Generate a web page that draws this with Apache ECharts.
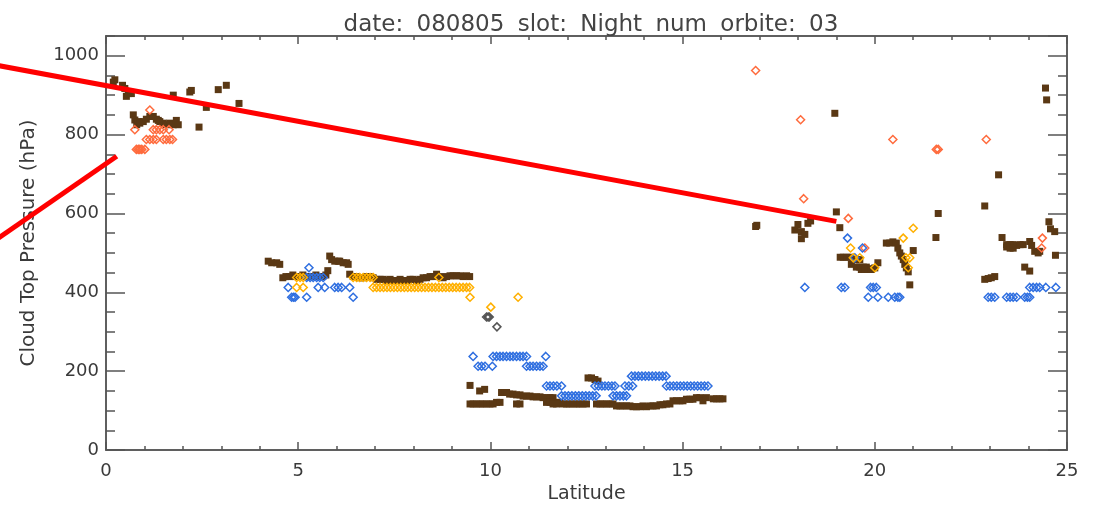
<!DOCTYPE html>
<html>
<head>
<meta charset="utf-8">
<script src="https://cdn.jsdelivr.net/npm/echarts@6/dist/echarts.min.js"></script>
<style>
  html, body { margin: 0; padding: 0; background: #ffffff; }
  #chart { width: 1096px; height: 509px; }
</style>
</head>
<body>
<div id="chart"></div>
<script>
// Cloud top pressure (hPa) against latitude, one orbit, night slot.
const titleWords = ['date:', '080805', 'slot:', 'Night', 'num', 'orbite:', '03'];
const xTickLabels = ['0', '5', '10', '15', '20', '25'];
const yTickLabels = ['0', '200', '400', '600', '800', '1000'];

// Retrieval A: filled squares [latitude, pressure]
const brownPoints = [
  [0.19,933],[0.23,939],[0.43,925],[0.49,917],[0.53,897],[0.58,904],[0.66,904],
  [1.75,900],[2.18,908],[2.22,912],[2.42,819],[2.61,869],[2.92,914],[3.13,925],[3.46,879],
  [0.71,850],[0.75,837],[0.80,825],[0.84,833],[0.88,829],[0.97,833],[1.05,839],[1.14,846],
  [1.23,846],[1.31,839],[1.36,836],[1.40,833],[1.49,829],[1.57,825],[1.66,829],[1.75,825],
  [1.83,836],[1.88,825],
  [4.22,479],[4.31,475],[4.44,475],[4.52,471],
  [4.60,437],[4.68,440],[4.77,440],[4.86,444],[4.94,440],[5.03,440],[5.12,444],[5.20,440],
  [5.29,440],[5.38,440],[5.46,444],[5.55,440],[5.64,440],[5.72,444],[5.77,455],
  [5.82,492],[5.87,483],[5.95,479],[6.04,479],[6.08,479],[6.17,475],[6.26,475],[6.30,471],
  [6.34,446],[6.43,440],[6.52,440],[6.60,437],[6.69,437],[6.78,440],[6.87,440],[6.95,437],
  [7.04,433],[7.13,433],[7.21,433],[7.30,430],[7.39,433],[7.47,430],[7.56,430],[7.65,433],
  [7.73,430],[7.82,430],[7.91,433],[7.99,433],[8.08,430],[8.17,433],[8.25,437],[8.34,437],
  [8.43,440],[8.51,440],[8.60,446],[8.69,440],[8.77,437],[8.86,440],[8.95,442],[9.03,442],
  [9.12,442],[9.21,442],[9.29,440],[9.38,442],[9.46,440],
  [9.47,164],[9.72,150],[9.85,154],[10.29,146],[10.38,146],[10.42,146],
  [9.47,117],[9.55,117],[9.64,117],[9.73,117],[9.81,117],[9.90,117],[9.99,117],[10.07,117],
  [10.16,121],[10.25,121],[10.68,117],[10.77,117],
  [10.50,142],[10.59,142],[10.68,140],[10.77,140],[10.85,137],[10.94,137],[11.03,137],
  [11.11,135],[11.20,135],[11.29,135],[11.37,133],[11.46,133],[11.55,133],[11.63,133],
  [11.46,121],[11.55,121],[11.72,121],[11.80,121],
  [11.63,117],[11.72,117],[11.89,117],[11.98,117],[12.06,117],[12.15,117],[12.24,117],
  [12.32,117],[12.41,117],[12.50,117],
  [12.54,183],[12.63,183],[12.72,179],[12.80,175],
  [12.76,117],[12.85,117],[12.93,117],[13.02,117],[13.11,117],[13.19,117],
  [13.28,112],[13.37,112],[13.45,112],[13.54,112],[13.63,112],[13.71,110],[13.80,110],
  [13.89,110],[13.97,112],[14.06,110],[14.15,112],[14.23,112],[14.32,112],[14.41,115],
  [14.49,115],[14.58,117],[14.67,117],
  [14.75,125],[14.84,125],[14.93,125],[15.01,125],[15.10,129],[15.19,129],[15.27,129],
  [15.36,133],[15.45,133],[15.53,125],[15.62,133],[15.80,130],[15.88,130],[15.97,130],[16.05,130],
  [16.90,567],[16.93,570],[17.92,558],[18.00,572],[18.09,554],[18.09,536],[18.18,547],
  [18.26,575],[18.33,581],[18.96,854],[19.00,604],[19.09,564],
  [19.10,489],[19.18,489],[19.27,489],[19.36,489],[19.39,471],[19.44,483],[19.52,483],
  [19.61,483],[19.52,464],[19.61,464],[19.70,464],[19.78,464],[19.87,460],[19.65,458],
  [19.74,458],[19.83,458],[19.91,458],[20.00,462],[20.08,475],
  [20.30,525],[20.39,525],[20.47,528],[20.56,525],[20.60,512],[20.65,500],[20.69,492],
  [20.74,483],[20.78,471],[20.82,462],[20.87,452],[20.91,419],[21.00,506],
  [21.59,539],[21.65,600],[22.86,619],[22.86,433],[22.95,435],[23.03,437],[23.12,440],
  [23.22,698],[23.31,539],
  [23.43,521],[23.52,521],[23.60,521],[23.69,519],[23.78,521],[23.86,521],[23.43,515],
  [23.52,512],[23.60,512],
  [24.03,529],[24.08,519],[24.16,504],[24.25,500],[24.29,504],[23.90,464],[24.03,454],
  [24.44,918],[24.47,888],[24.53,579],[24.57,561],[24.68,554],[24.70,494]
];

// Retrieval B: open diamonds, low-level class
const orangePoints = [
  [0.75,812.5],[0.79,762.5],[0.84,762.5],[0.88,762.5],[0.93,762.5],[1.01,762.5],[1.14,862.5],
  [1.05,787.5],[1.14,787.5],[1.23,787.5],[1.31,787.5],[1.49,787.5],[1.57,787.5],[1.66,787.5],
  [1.73,787.5],[1.23,812.5],[1.31,812.5],[1.40,812.5],[1.49,812.5],[1.64,812.5],
  [16.90,962.5],[18.07,837.5],[18.15,637.5],[19.31,587.5],[19.74,512.5],[20.47,787.5],
  [21.60,762.5],[21.65,762.5],[22.90,787.5],[24.36,537.5],[24.34,512.5]
];

// Retrieval B: open diamonds, high-level class
const bluePoints = [
  [4.74,412.5],[4.83,387.5],[4.88,387.5],[4.92,387.5],[5.22,387.5],[5.28,462.5],[5.22,437.5],
  [5.31,437.5],[5.39,437.5],[5.48,437.5],[5.56,437.5],[5.65,437.5],[5.52,412.5],[5.69,412.5],
  [5.95,412.5],[6.04,412.5],[6.13,412.5],[6.34,412.5],[6.43,387.5],
  [9.55,237.5],[10.07,237.5],[10.16,237.5],[10.25,237.5],[10.33,237.5],[10.42,237.5],
  [10.51,237.5],[10.59,237.5],[10.68,237.5],[10.77,237.5],[10.85,237.5],[10.94,237.5],[11.44,237.5],
  [9.68,212.5],[9.77,212.5],[9.86,212.5],[10.05,212.5],[10.94,212.5],[11.03,212.5],
  [11.11,212.5],[11.20,212.5],[11.29,212.5],[11.37,212.5],
  [11.46,162.5],[11.55,162.5],[11.64,162.5],[11.73,162.5],[11.85,162.5],
  [12.72,162.5],[12.81,162.5],[12.90,162.5],[12.98,162.5],[13.07,162.5],[13.16,162.5],[13.24,162.5],
  [13.50,162.5],[13.60,162.5],[13.70,162.5],
  [14.58,162.5],[14.67,162.5],[14.76,162.5],[14.85,162.5],[14.94,162.5],[15.03,162.5],
  [15.12,162.5],[15.21,162.5],[15.30,162.5],[15.39,162.5],[15.48,162.5],[15.57,162.5],[15.66,162.5],
  [13.67,187.5],[13.76,187.5],[13.85,187.5],[13.94,187.5],[14.03,187.5],[14.12,187.5],
  [14.21,187.5],[14.30,187.5],[14.39,187.5],[14.48,187.5],[14.57,187.5],
  [11.85,137.5],[11.94,137.5],[12.03,137.5],[12.12,137.5],[12.21,137.5],[12.30,137.5],
  [12.39,137.5],[12.48,137.5],[12.57,137.5],[12.66,137.5],[12.75,137.5],
  [13.19,137.5],[13.28,137.5],[13.37,137.5],[13.46,137.5],[13.54,137.5],
  [18.18,412.5],[19.13,412.5],[19.22,412.5],[19.29,537.5],[19.48,487.5],[19.68,512.5],
  [19.89,412.5],[19.96,412.5],[20.04,412.5],[19.83,387.5],[20.08,387.5],[20.35,387.5],
  [20.52,387.5],[20.60,387.5],[20.65,387.5],
  [22.95,387.5],[23.03,387.5],[23.12,387.5],[23.43,387.5],[23.52,387.5],[23.60,387.5],
  [23.69,387.5],[23.90,387.5],[23.97,387.5],[24.03,387.5],[24.03,412.5],[24.12,412.5],
  [24.21,412.5],[24.29,412.5],[24.45,412.5],[24.71,412.5]
];

// Retrieval B: open diamonds, mid-level class
const yellowPoints = [
  [4.96,437.5],[5.05,437.5],[5.13,437.5],[4.96,412.5],[5.13,412.5],
  [6.43,437.5],[6.52,437.5],[6.60,437.5],[6.69,437.5],[6.78,437.5],[6.87,437.5],[6.95,437.5],
  [6.95,412.5],[7.04,412.5],[7.13,412.5],[7.22,412.5],[7.31,412.5],[7.40,412.5],[7.49,412.5],
  [7.58,412.5],[7.67,412.5],[7.76,412.5],[7.85,412.5],[7.94,412.5],[8.03,412.5],[8.12,412.5],
  [8.21,412.5],[8.30,412.5],[8.39,412.5],[8.48,412.5],[8.57,412.5],[8.66,412.5],[8.75,412.5],
  [8.84,412.5],[8.93,412.5],[9.02,412.5],[9.11,412.5],[9.20,412.5],[9.29,412.5],[9.38,412.5],
  [9.46,412.5],
  [8.66,437.5],[9.47,387.5],[10.01,362.5],[10.72,387.5],
  [19.37,512.5],[19.44,487.5],[19.61,487.5],[20.00,462.5],[20.74,537.5],[21.00,562.5],
  [20.81,487.5],[20.91,487.5],[20.87,462.5]
];

// Retrieval B: open diamonds, undetermined class
const grayPoints = [[9.90,337.5],[9.94,337.5],[9.97,337.5],[10.17,312.5]];

// Annotation strokes, in data units
const strokeA = [[-2.8,975],[19.0,580]];
const strokeB = [[-2.8,537.5],[0.28,745]];

const FONT = 'DejaVu Sans';
const AXIS_COLOR = '#555555';
const TEXT_COLOR = '#3a3a3a';

function diamondSeries(name, data, color) {
  return {
    name: name, type: 'scatter', data: data,
    symbol: 'diamond', symbolSize: 8,
    itemStyle: { color: 'rgba(255,255,255,0)', borderColor: color, borderWidth: 1.5, opacity: 1 },
    silent: true, z: 3
  };
}

function tickAxis(dim, position, interval, len, extra) {
  const isX = dim === 'x';
  return Object.assign({
    type: 'value', position: position,
    min: 0, max: isX ? 25 : 1050, interval: interval,
    axisLine: { show: true, onZero: false, lineStyle: { color: AXIS_COLOR, width: 1.5 } },
    axisTick: { show: true, inside: true, length: len, lineStyle: { color: AXIS_COLOR, width: 1.5 } },
    axisLabel: { show: false },
    splitLine: { show: false }
  }, extra || {});
}

// Title words separated by wide gaps
const titleRich = titleWords.map(function (w) { return '{w|' + w + '}'; }).join('{g| }');

const chart = echarts.init(document.getElementById('chart'), null, { renderer: 'canvas' });

chart.setOption({
  animation: false,
  backgroundColor: '#ffffff',
  title: {
    text: titleRich, left: 586, top: 6, textAlign: 'center',
    textStyle: {
      fontFamily: FONT, fontSize: 23, fontWeight: 'normal', color: '#444444', lineHeight: 28,
      rich: {
        w: { fontFamily: FONT, fontSize: 23, color: '#444444', lineHeight: 28 },
        g: { fontFamily: FONT, fontSize: 42, color: '#444444', lineHeight: 28 }
      }
    }
  },
  grid: { left: 106, right: 29, top: 36, bottom: 54, containLabel: false },
  xAxis: [
    tickAxis('x', 'bottom', 5, 8, {
      name: 'Latitude', nameLocation: 'middle', nameGap: 33,
      nameTextStyle: { fontFamily: FONT, fontSize: 19, color: TEXT_COLOR },
      axisLabel: {
        show: true, margin: 12, fontFamily: FONT, fontSize: 18, color: TEXT_COLOR,
        formatter: function (v) { const s = String(v); return xTickLabels.indexOf(s) >= 0 ? s : ''; }
      }
    }),
    tickAxis('x', 'bottom', 1, 4),
    tickAxis('x', 'top', 5, 8),
    tickAxis('x', 'top', 1, 4)
  ],
  yAxis: [
    tickAxis('y', 'left', 200, 19, {
      name: 'Cloud Top Pressure (hPa)', nameLocation: 'middle', nameGap: 67,
      nameTextStyle: { fontFamily: FONT, fontSize: 20, color: TEXT_COLOR },
      axisLabel: {
        show: true, margin: 7, fontFamily: FONT, fontSize: 18, color: TEXT_COLOR,
        showMaxLabel: false,
        formatter: function (v) { const s = String(v); return yTickLabels.indexOf(s) >= 0 ? s : ''; }
      }
    }),
    tickAxis('y', 'left', 50, 9),
    tickAxis('y', 'right', 200, 19),
    tickAxis('y', 'right', 50, 9)
  ],
  series: [
    {
      name: 'A', type: 'scatter', data: brownPoints,
      symbol: 'rect', symbolSize: 7,
      itemStyle: { color: '#5a3814', opacity: 1 }, silent: true, z: 2
    },
    diamondSeries('low', orangePoints, '#ff6b3d'),
    diamondSeries('high', bluePoints, '#2f6fe0'),
    diamondSeries('mid', yellowPoints, '#ffb000'),
    diamondSeries('undet', grayPoints, '#555555')
  ]
});

// Annotation strokes extend past the plot frame, so they are placed through the
// grid's own coordinate conversion and drawn as free graphics.
function strokeGraphic(stroke) {
  const pts = stroke.map(function (p) { return chart.convertToPixel({ gridIndex: 0 }, p); });
  return {
    type: 'polyline', z: 100, silent: true,
    shape: { points: pts },
    style: { stroke: '#ff0000', lineWidth: 5, fill: null, lineCap: 'butt' }
  };
}
chart.setOption({ graphic: [strokeGraphic(strokeA), strokeGraphic(strokeB)] });
</script>
</body>
</html>
